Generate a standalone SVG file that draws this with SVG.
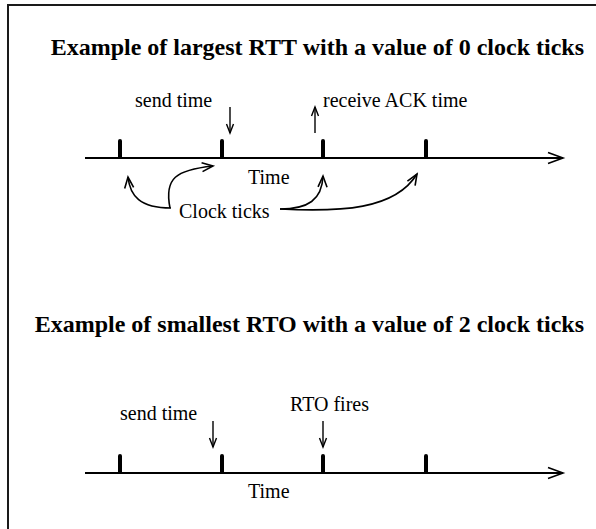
<svg xmlns="http://www.w3.org/2000/svg" width="596" height="529" viewBox="0 0 596 529">
<style>
.title{font-family:"Liberation Serif","Times New Roman",serif;font-weight:bold;font-size:24px;fill:#000}
.lbl{font-family:"Liberation Serif","Times New Roman",serif;font-size:20px;fill:#000}
.axis{stroke:#000;stroke-width:1.8;fill:none}
.tick{stroke:#000;stroke-width:4;stroke-linecap:round}
.arr{stroke:#000;stroke-width:1.4;fill:none}
.cur{stroke:#000;stroke-width:1.6;fill:none}
</style>
<defs>
<marker id="big" markerUnits="userSpaceOnUse" markerWidth="18" markerHeight="14" refX="16" refY="7" orient="auto" overflow="visible">
<path d="M1,1.5 L16,7 L1,12.5" fill="none" stroke="#000" stroke-width="1.6"/>
</marker>
<marker id="sm" markerUnits="userSpaceOnUse" markerWidth="12" markerHeight="10" refX="10" refY="5" orient="auto" overflow="visible">
<path d="M1,1.5 L10,5 L1,8.5" fill="none" stroke="#000" stroke-width="1.4"/>
</marker>
<marker id="cv" markerUnits="userSpaceOnUse" markerWidth="14" markerHeight="12" refX="12" refY="6" orient="auto" overflow="visible">
<path d="M1,1.5 L12,6 L1,10.5" fill="none" stroke="#000" stroke-width="1.6"/>
</marker>
</defs>
<rect x="8" y="5" width="600" height="540" fill="#fff" stroke="#1a1a1a" stroke-width="2"/>

<g id="rtt-example">
<text class="title" x="584" y="55" text-anchor="end">Example of largest RTT with a value of 0 clock ticks</text>
<g id="axis1">
<line class="axis" x1="85" y1="158" x2="563" y2="158" marker-end="url(#big)"/>
<line class="tick" x1="120" y1="141" x2="120" y2="157"/>
<line class="tick" x1="222" y1="141" x2="222" y2="157"/>
<line class="tick" x1="323" y1="141" x2="323" y2="157"/>
<line class="tick" x1="426" y1="141" x2="426" y2="157"/>
<text class="lbl" x="248" y="184">Time</text>
</g>
<g id="send1">
<text class="lbl" x="135" y="107">send time</text>
</g>
<g id="recv1">
<text class="lbl" x="323" y="107">receive ACK time</text>
</g>
<g id="clock">
<text class="lbl" x="179" y="218">Clock ticks</text>
</g>
</g>

<g id="rto-example">
<text class="title" x="584" y="332" text-anchor="end">Example of smallest RTO with a value of 2 clock ticks</text>
<g id="axis2">
<line class="axis" x1="85" y1="473" x2="563" y2="473" marker-end="url(#big)"/>
<line class="tick" x1="120" y1="456" x2="120" y2="472"/>
<line class="tick" x1="222" y1="456" x2="222" y2="472"/>
<line class="tick" x1="323" y1="456" x2="323" y2="472"/>
<line class="tick" x1="426" y1="456" x2="426" y2="472"/>
<text class="lbl" x="248" y="498">Time</text>
</g>
<g id="send2">
<text class="lbl" x="120" y="420">send time</text>
</g>
<g id="rto2">
<text class="lbl" x="290" y="411">RTO fires</text>
</g>
</g>

<g id="connectors">
<line class="arr" x1="230" y1="107" x2="230" y2="133" marker-end="url(#sm)"/>
<line class="arr" x1="315" y1="133" x2="315" y2="107" marker-end="url(#sm)"/>
<path class="cur" d="M171,208 C140,208 130,196 128,177" marker-end="url(#cv)"/>
<path class="cur" d="M170,208 C164,178 176,170 213,166" marker-end="url(#cv)"/>
<path class="cur" d="M280,209 C308,209 322,200 323,176" marker-end="url(#cv)"/>
<path class="cur" d="M280,209 C340,212 395,210 417,174" marker-end="url(#cv)"/>
<line class="arr" x1="213" y1="421" x2="213" y2="447" marker-end="url(#sm)"/>
<line class="arr" x1="323" y1="421" x2="323" y2="447" marker-end="url(#sm)"/>
</g>
</svg>
